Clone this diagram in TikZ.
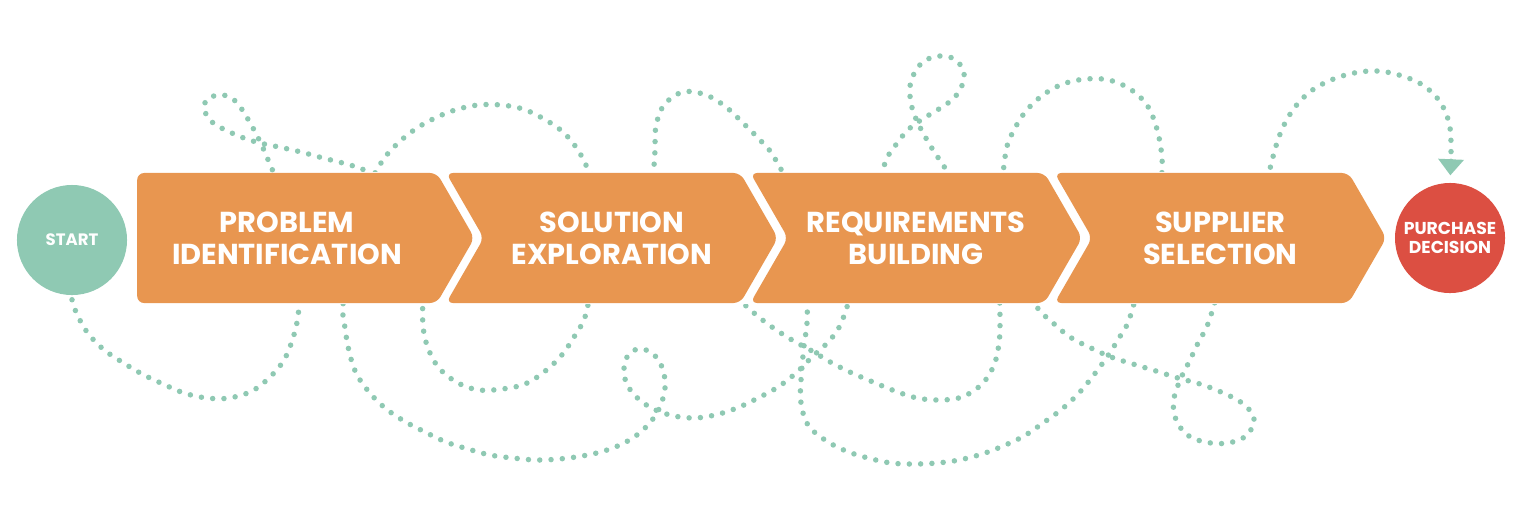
\documentclass[tikz,border=0pt]{standalone}
\usepackage{fontspec}
\setmainfont{Poppins}
\usetikzlibrary{positioning,shapes.symbols,arrows.meta,backgrounds}
\definecolor{trailgreen}{HTML}{8FC9B3}
\definecolor{stageorange}{HTML}{E89650}
\definecolor{decisionred}{HTML}{DC4F42}
\tikzset{x=0.01cm, y=-0.01cm, node distance=3.04cm, on grid,
stage/.style={signal, signal to=east, signal from=west, signal pointer angle=120,
  fill=stageorange, text=white, align=center, inner sep=0pt,
  minimum height=1.3cm, minimum width=3.315cm, rounded corners=0.07cm,
  font=\bfseries\fontsize{8.2}{9.1}\selectfont},
firststage/.style={stage, signal from=nowhere, minimum width=3.37cm},
ends/.style={circle, minimum size=1.1cm, inner sep=0pt, text=white, align=center},
trail/.style={trailgreen, line width=0.055cm, line cap=round, dash pattern=on 0pt off 0.113cm}}

\begin{document}
\begin{tikzpicture}
\useasboundingbox (0,0) rectangle (1540,530);
\node[firststage] (prob) at (287,238) {PROBLEM\\IDENTIFICATION};
\node[stage] (sol) at (612,238) {SOLUTION\\EXPLORATION};
\node[stage] (req) [right=of sol] {REQUIREMENTS\\BUILDING};
\node[stage] (sup) [right=of req] {SUPPLIER\\SELECTION};
\node[ends, fill=trailgreen, font=\bfseries\fontsize{4.7}{6}\selectfont] (start) at (72,240) {START};
\node[ends, fill=decisionred, font=\bfseries\fontsize{4.9}{5.5}\selectfont] (decision) at (1450,238) {PURCHASE\\DECISION};

\begin{scope}[on background layer]
% the winding buyer journey, hidden parts run behind the stages
\draw[trail, -{Triangle[width=0.26cm, length=0.16cm, line width=0pt]}, shorten >=0.07cm]
  plot[smooth, tension=0.6] coordinates {([yshift=-0.04cm]start.south)
  (76,312) (87,332) (103,349) (122,362) (142,374) (163,384) (184,393) (207,398)
  (229,398) (252,391) (270,377) (284,360) (293,338) (298,316)
  (300,285) (296,240) (284,195)
  (272,169) (263,148) (253,128) (241,108) (233,99) (222,95) (209,98) (204,108)
  (212,122) (234,134) (256,142) (279,147) (301,152) (323,158) (346,164) (367,172)
  (395,200) (415,245) (422,290)
  (423,326) (428,348) (439,368) (458,383) (479,390) (502,389) (525,384) (544,372)
  (561,356) (574,337) (585,317)
  (595,280) (625,230) (648,195)
  (654,165) (655,149) (656,126) (664,105) (683,92) (706,95) (726,107) (743,123)
  (759,139) (774,157)
  (795,200) (805,250) (807,295)
  (807,323) (804,346) (801,380) (801,403) (808,425) (825,440) (846,451) (868,458)
  (891,463) (914,464) (937,463) (959,460) (982,454) (1003,446) (1024,436)
  (1043,423) (1062,409) (1079,393) (1093,376) (1107,357) (1119,338) (1130,317)
  (1145,260) (1158,210)
  (1162,171) (1161,149) (1156,126) (1147,105) (1130,89) (1109,80) (1086,79)
  (1063,84) (1043,95) (1026,111) (1014,130) (1006,151)
  (1001,200) (999,260)
  (1000,319) (999,343) (994,365) (982,384) (962,397) (940,400) (917,398)
  (895,391) (873,382) (852,373) (832,363) (812,351) (792,340) (772,327) (754,313)
  (720,283) (665,240) (615,205)
  (589,170) (578,150) (563,132) (544,119) (523,109) (501,105) (478,105) (455,110)
  (433,119) (414,130) (396,145) (381,163)
  (365,195) (350,250)
  (343,305) (345,328) (349,351) (356,373) (369,392) (385,408) (404,421) (425,432)
  (446,442) (468,449) (490,455) (513,458) (536,460) (559,459) (582,456) (604,451)
  (626,442) (644,429) (658,411) (665,388) (662,367) (652,353) (638,349) (627,357)
  (624,374) (631,391) (648,406) (670,415) (693,418) (715,415) (737,408) (758,398)
  (778,387) (796,373) (812,357) (830,340) (842,321)
  (855,280) (872,220)
  (884,166) (895,146) (910,128) (929,115) (948,103) (960,90) (964,72) (954,59)
  (940,56) (926,60) (916,70) (910,86) (911,103) (916,119) (927,140) (939,159)
  (970,205) (1005,260)
  (1036,306) (1052,322) (1070,337) (1091,348) (1111,357) (1133,364) (1156,371)
  (1178,378) (1200,384) (1221,392) (1242,403) (1254,418) (1247,435) (1228,443)
  (1205,442) (1186,434) (1175,417) (1174,398) (1181,378) (1189,362) (1199,341)
  (1209,321)
  (1228,260) (1255,200)
  (1269,171) (1275,149) (1283,127) (1295,107) (1311,91) (1331,80) (1354,73)
  (1377,71) (1399,75) (1421,84) (1438,99) (1448,119) (1451,142) (decision.north)};
\fill[white] (prob.north) rectangle (sup.south);
\end{scope}
\end{tikzpicture}
\end{document}
